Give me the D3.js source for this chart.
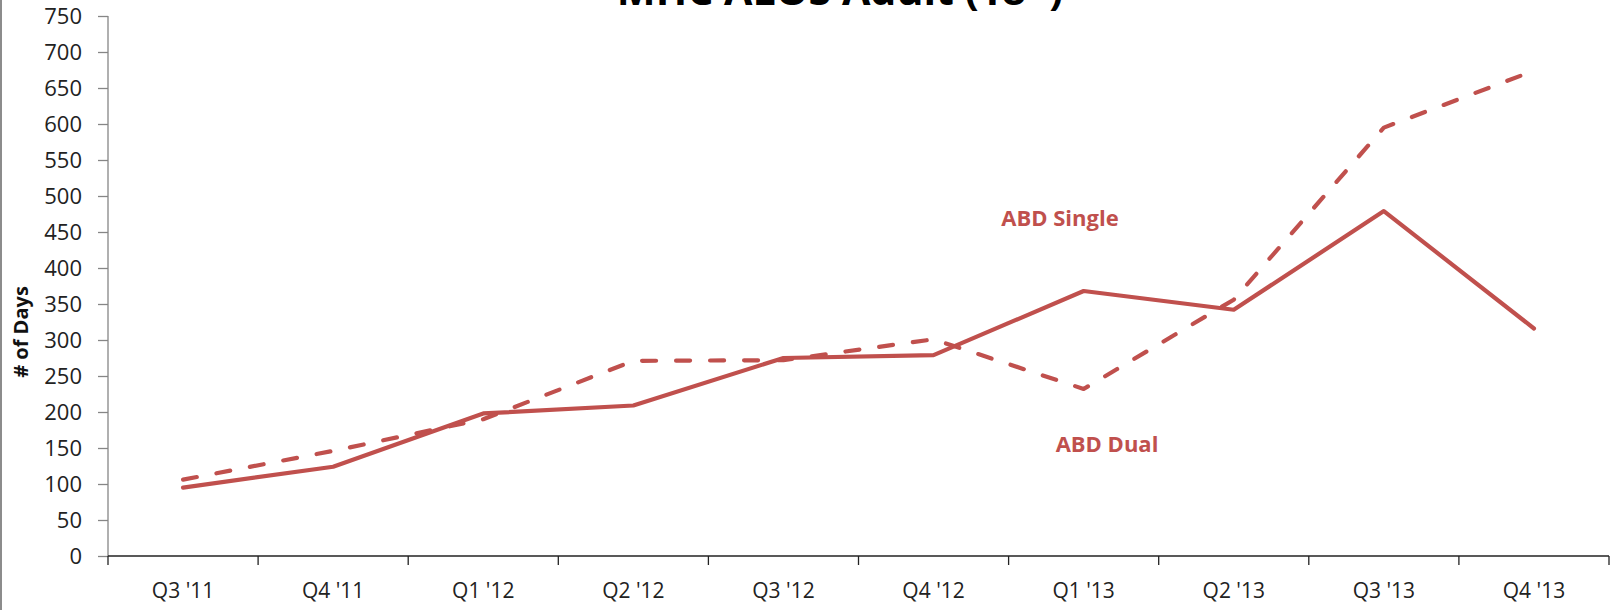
<!DOCTYPE html>
<html>
<head>
<meta charset="utf-8">
<script src="https://cdn.jsdelivr.net/npm/d3@7"></script>
<style>
  html, body { margin: 0; padding: 0; background: #fff; }
  svg { display: block; }
  text { font-family: "Open Sans", "Noto Sans", sans-serif; }
</style>
</head>
<body>
<svg id="chart" width="1615" height="610"></svg>
<script>
const categories = ["Q3 '11", "Q4 '11", "Q1 '12", "Q2 '12", "Q3 '12", "Q4 '12", "Q1 '13", "Q2 '13", "Q3 '13", "Q4 '13"];
const abdSingle = [95, 124, 198, 209, 275, 279, 368, 342, 479, 316];
const abdDual   = [106, 146, 190, 271, 272, 301, 232, 356, 595, 674];
const yTicks = [0, 50, 100, 150, 200, 250, 300, 350, 400, 450, 500, 550, 600, 650, 700, 750];
const titleText = "MHC ALOS Adult (18+)";
const yLabel = "# of Days";
const seriesNames = ["ABD Single", "ABD Dual"];

(function () {
const color = "#C0504D";
const svg = d3.select("#chart");
const W = 1615, H = 610;
const mLeft = 108, mRight = 1609, mTop = 16, mBottom = 556;

const x = d3.scaleBand().domain(categories).range([mLeft, mRight]).padding(0);
const y = d3.scaleLinear().domain([0, 750]).range([mBottom, mTop]);

// outer frame (left edge visible)
svg.append("line").attr("x1", 1).attr("x2", 1).attr("y1", 0).attr("y2", H)
  .attr("stroke", "#8c8c8c").attr("stroke-width", 2);

// Y axis
const yAxis = svg.append("g").attr("transform", `translate(${mLeft},0)`)
  .call(d3.axisLeft(y).tickValues(yTicks).tickSize(10).tickPadding(16));
yAxis.select(".domain").attr("stroke", "#868686").attr("stroke-width", 1.3)
  .attr("d", `M0,${mTop}V${mBottom}`);
yAxis.selectAll(".tick line").attr("stroke", "#868686").attr("stroke-width", 1.3);
yAxis.selectAll(".tick text").attr("fill", "#222").style("font-size", "22px")
  .style("font-family", "'Open Sans', sans-serif");

// X axis labels
const xAxis = svg.append("g").attr("transform", `translate(0,${mBottom})`)
  .call(d3.axisBottom(x).tickSize(0).tickPadding(27));
xAxis.select(".domain").remove();
xAxis.selectAll(".tick text").attr("fill", "#222").style("font-size", "21px")
  .style("font-family", "'Open Sans', sans-serif");

// X axis line and boundary ticks
svg.append("line").attr("x1", mLeft).attr("x2", mRight).attr("y1", mBottom).attr("y2", mBottom)
  .attr("stroke", "#222").attr("stroke-width", 1.3);
const bounds = categories.map(c => x(c)).concat([x(categories[categories.length - 1]) + x.bandwidth()]);
svg.append("g").selectAll("line").data(bounds).join("line")
  .attr("x1", d => d).attr("x2", d => d).attr("y1", mBottom).attr("y2", mBottom + 9)
  .attr("stroke", "#222").attr("stroke-width", 1.3);

// Lines
const line = d3.line().x((d, i) => x(categories[i]) + x.bandwidth() / 2).y(d => y(d));
svg.append("path").datum(abdDual).attr("d", line)
  .attr("fill", "none").attr("stroke", color).attr("stroke-width", 4.2)
  .attr("stroke-linecap", "round").attr("stroke-linejoin", "round")
  .attr("stroke-dasharray", "14,20");
svg.append("path").datum(abdSingle).attr("d", line)
  .attr("fill", "none").attr("stroke", color).attr("stroke-width", 4.2)
  .attr("stroke-linecap", "round").attr("stroke-linejoin", "round");

// Series labels
svg.append("text").attr("x", 1060).attr("y", 226).attr("text-anchor", "middle")
  .attr("fill", color).style("font-weight", "bold").style("font-size", "22px")
  .text(seriesNames[0]);
svg.append("text").attr("x", 1107).attr("y", 452).attr("text-anchor", "middle")
  .attr("fill", color).style("font-weight", "bold").style("font-size", "22px")
  .text(seriesNames[1]);

// Y label
svg.append("text").attr("transform", "translate(28,332) rotate(-90)")
  .attr("text-anchor", "middle").attr("fill", "#111")
  .style("font-weight", "bold").style("font-size", "20px")
  .text(yLabel);

// Title (cut off at the top, as in the source image)
const title = svg.append("text").attr("x", 840).attr("y", 5).attr("text-anchor", "middle")
  .attr("fill", "#000").style("font-weight", "bold").style("font-size", "32px")
  .text(titleText);
const tw = title.node().getComputedTextLength();
title.style("font-size", (32 * 446 / tw).toFixed(1) + "px");
})();
</script>
</body>
</html>
